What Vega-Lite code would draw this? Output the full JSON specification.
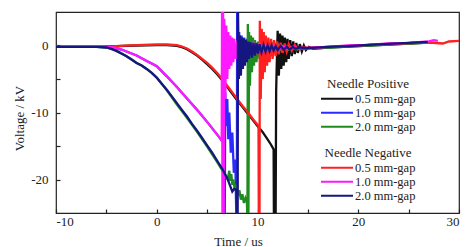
{
  "$schema": "https://vega.github.io/schema/vega-lite/v6.json",
  "width": 403,
  "height": 201,
  "autosize": {"type": "none"},
  "padding": {"left": 56, "top": 12, "right": 9, "bottom": 34},
  "background": "white",
  "config": {
    "font": "Liberation Serif",
    "view": {"stroke": "#222222", "strokeWidth": 1.2},
    "axis": {
      "domain": false,
      "grid": false,
      "labelFont": "Liberation Serif",
      "labelFontSize": 13,
      "labelColor": "#222222",
      "titleFont": "Liberation Serif",
      "titleFontSize": 13,
      "titleFontWeight": "normal",
      "titleColor": "#222222",
      "tickColor": "#222222",
      "tickWidth": 1.2
    },
    "legend": {
      "orient": "none",
      "padding": 0,
      "symbolType": "stroke",
      "symbolSize": 1024,
      "symbolStrokeWidth": 2,
      "symbolOffset": 0,
      "labelOffset": 1,
      "labelFont": "Liberation Serif",
      "labelFontSize": 12.5,
      "labelColor": "#222222",
      "titleFont": "Liberation Serif",
      "titleFontSize": 13,
      "titleFontWeight": "normal",
      "titleColor": "#222222",
      "titleAnchor": "middle",
      "titlePadding": 1,
      "clipHeight": 13.3,
      "rowPadding": 0
    }
  },
  "datasets": {
    "p05": [{"t":-10,"v":-0.2},{"t":-6,"v":-0.2},{"t":-4,"v":-0.1},{"t":-2,"v":0},{"t":0,"v":0.05},{"t":1,"v":0.05},{"t":2,"v":-0.05},{"t":2.5,"v":-0.25},{"t":3,"v":-0.55},{"t":3.5,"v":-1.0},{"t":4,"v":-1.5},{"t":4.5,"v":-2.1},{"t":5,"v":-2.8},{"t":5.5,"v":-3.5},{"t":6,"v":-4.3},{"t":6.5,"v":-5.2},{"t":7,"v":-6.2},{"t":7.5,"v":-7.2},{"t":8,"v":-8.2},{"t":8.5,"v":-9.15},{"t":9,"v":-10.1},{"t":9.5,"v":-11.05},{"t":10,"v":-12.0},{"t":10.5,"v":-12.9},{"t":11,"v":-14.0},{"t":11.3,"v":-14.7},{"t":11.6,"v":-15.5},{"t":11.63,"v":-26},{"t":11.8,"v":-26},{"t":11.85,"v":-7},{"t":11.9,"v":-3.5},{"t":12.0,"v":2.2},{"t":12.12,"v":-4.5},{"t":12.24,"v":1.8},{"t":12.36,"v":-3.5},{"t":12.48,"v":1.5},{"t":12.6,"v":-3},{"t":12.72,"v":1.2},{"t":12.85,"v":-2.5},{"t":12.98,"v":1},{"t":13.1,"v":-2},{"t":13.25,"v":0.8},{"t":13.4,"v":-1.6},{"t":13.55,"v":0.6},{"t":13.7,"v":-1.3},{"t":13.85,"v":0.4},{"t":14,"v":-1.1},{"t":14.2,"v":0.2},{"t":14.4,"v":-0.9},{"t":14.6,"v":0},{"t":14.8,"v":-0.7},{"t":15.1,"v":-0.2},{"t":15.5,"v":-0.5},{"t":17,"v":-0.3},{"t":19,"v":-0.15},{"t":21,"v":0},{"t":23,"v":0.15},{"t":25,"v":0.3},{"t":26.5,"v":0.4}],
    "p10": [{"t":-10,"v":-0.2},{"t":-5,"v":-0.2},{"t":-4.3,"v":-0.3},{"t":-3.5,"v":-0.6},{"t":-3,"v":-0.9},{"t":-2.5,"v":-1.2},{"t":-2,"v":-1.5},{"t":-1.5,"v":-1.9},{"t":-1,"v":-2.3},{"t":-0.5,"v":-2.7},{"t":0,"v":-3.1},{"t":1,"v":-4.6},{"t":2,"v":-6.2},{"t":3,"v":-7.9},{"t":4,"v":-9.6},{"t":5,"v":-11.4},{"t":6,"v":-13.3},{"t":6.6,"v":-14.5},{"t":6.63,"v":-26},{"t":6.75,"v":-26},{"t":6.8,"v":-7},{"t":6.9,"v":-12},{"t":7.0,"v":-8},{"t":7.1,"v":-14},{"t":7.2,"v":-10},{"t":7.35,"v":-16},{"t":7.5,"v":-13},{"t":7.65,"v":-19},{"t":7.8,"v":-17},{"t":7.9,"v":-26},{"t":7.95,"v":-26},{"t":7.98,"v":5.5},{"t":8.08,"v":-3},{"t":8.18,"v":2},{"t":8.3,"v":-3},{"t":8.42,"v":1.5},{"t":8.55,"v":-2.5},{"t":8.68,"v":1.2},{"t":8.8,"v":-2.2},{"t":8.95,"v":1},{"t":9.1,"v":-1.8},{"t":9.25,"v":0.8},{"t":9.4,"v":-1.6},{"t":9.6,"v":0.6},{"t":9.8,"v":-1.4},{"t":10,"v":0.4},{"t":10.2,"v":-1.2},{"t":10.45,"v":0.3},{"t":10.7,"v":-1},{"t":10.95,"v":0.2},{"t":11.2,"v":-0.9},{"t":11.5,"v":0.1},{"t":11.8,"v":-0.8},{"t":12.1,"v":0},{"t":12.4,"v":-0.7},{"t":12.8,"v":-0.1},{"t":13.2,"v":-0.6},{"t":13.6,"v":-0.2},{"t":14,"v":-0.5},{"t":15,"v":-0.4},{"t":17,"v":-0.25},{"t":19,"v":-0.1},{"t":21,"v":0.05},{"t":23,"v":0.2},{"t":25,"v":0.35},{"t":26.5,"v":0.45}],
    "p20": [{"t":-10,"v":-0.2},{"t":-6,"v":-0.2},{"t":-5,"v":-0.3},{"t":-4.5,"v":-0.5},{"t":-4,"v":-0.8},{"t":-3.5,"v":-1.2},{"t":-3,"v":-1.6},{"t":-2.5,"v":-2.1},{"t":-2,"v":-2.6},{"t":-1.5,"v":-3.0},{"t":-1,"v":-3.5},{"t":-0.5,"v":-4.1},{"t":0,"v":-4.8},{"t":1,"v":-6.7},{"t":2,"v":-8.8},{"t":3,"v":-10.8},{"t":4,"v":-12.9},{"t":5,"v":-15.1},{"t":6,"v":-17.4},{"t":6.5,"v":-18.6},{"t":7.0,"v":-19.9},{"t":7.1,"v":-19.5},{"t":7.2,"v":-18.7},{"t":7.3,"v":-20.2},{"t":7.4,"v":-19.2},{"t":7.5,"v":-20.8},{"t":7.6,"v":-20},{"t":7.75,"v":-21.6},{"t":7.9,"v":-20.8},{"t":8.05,"v":-22.4},{"t":8.2,"v":-21.6},{"t":8.35,"v":-23},{"t":8.5,"v":-22.2},{"t":8.65,"v":-23.5},{"t":8.8,"v":-22.8},{"t":8.95,"v":-23.5},{"t":9.0,"v":-26},{"t":9.04,"v":3.2},{"t":9.1,"v":-26},{"t":9.16,"v":2},{"t":9.25,"v":-6},{"t":9.35,"v":1.5},{"t":9.45,"v":-4},{"t":9.55,"v":1.2},{"t":9.65,"v":-3},{"t":9.75,"v":0.8},{"t":9.9,"v":-2.5},{"t":10.05,"v":0.6},{"t":10.2,"v":-2},{"t":10.35,"v":0.4},{"t":10.5,"v":-1.6},{"t":10.7,"v":0.3},{"t":10.9,"v":-1.3},{"t":11.1,"v":0.2},{"t":11.3,"v":-1},{"t":11.5,"v":0.1},{"t":11.8,"v":-0.9},{"t":12.1,"v":0},{"t":12.4,"v":-0.8},{"t":12.7,"v":-0.1},{"t":13,"v":-0.7},{"t":13.4,"v":-0.2},{"t":13.8,"v":-0.6},{"t":14.3,"v":-0.4},{"t":15,"v":-0.45},{"t":17,"v":-0.3},{"t":19,"v":-0.15},{"t":21,"v":0},{"t":23,"v":0.15},{"t":25,"v":0.3},{"t":26.5,"v":0.4}],
    "n05": [{"t":-10,"v":-0.2},{"t":-6,"v":-0.2},{"t":-4,"v":-0.1},{"t":-2,"v":0.05},{"t":0,"v":0.15},{"t":1,"v":0.15},{"t":2,"v":0.05},{"t":2.5,"v":-0.15},{"t":3,"v":-0.45},{"t":3.5,"v":-0.9},{"t":4,"v":-1.4},{"t":4.5,"v":-2.0},{"t":5,"v":-2.6},{"t":5.5,"v":-3.3},{"t":6,"v":-4.1},{"t":6.5,"v":-5.0},{"t":7,"v":-6.0},{"t":7.5,"v":-7.0},{"t":8,"v":-8.0},{"t":8.5,"v":-9.0},{"t":9,"v":-9.9},{"t":9.5,"v":-10.9},{"t":10.1,"v":-12.0},{"t":10.13,"v":-26},{"t":10.2,"v":-26},{"t":10.23,"v":3.7},{"t":10.32,"v":-8},{"t":10.42,"v":2.5},{"t":10.52,"v":-5},{"t":10.62,"v":2},{"t":10.72,"v":-4},{"t":10.82,"v":1.5},{"t":10.95,"v":-3},{"t":11.08,"v":1.2},{"t":11.2,"v":-2.5},{"t":11.35,"v":1},{"t":11.5,"v":-2},{"t":11.65,"v":0.8},{"t":11.8,"v":-1.6},{"t":11.95,"v":0.6},{"t":12.1,"v":-1.3},{"t":12.3,"v":0.4},{"t":12.5,"v":-1.1},{"t":12.7,"v":0.3},{"t":12.9,"v":-0.9},{"t":13.1,"v":0.2},{"t":13.4,"v":-0.8},{"t":13.7,"v":0.1},{"t":14,"v":-0.6},{"t":14.4,"v":-0.2},{"t":15,"v":-0.35},{"t":17,"v":-0.2},{"t":19,"v":-0.05},{"t":21,"v":0.1},{"t":23,"v":0.25},{"t":25,"v":0.35},{"t":27,"v":0.45},{"t":28.4,"v":0.3},{"t":29,"v":0.6},{"t":30,"v":0.7}],
    "n10": [{"t":-10,"v":-0.2},{"t":-5,"v":-0.2},{"t":-4.3,"v":-0.3},{"t":-3.5,"v":-0.6},{"t":-3,"v":-0.9},{"t":-2.5,"v":-1.2},{"t":-2,"v":-1.5},{"t":-1.5,"v":-1.9},{"t":-1,"v":-2.3},{"t":-0.5,"v":-2.7},{"t":0,"v":-3.1},{"t":1,"v":-4.6},{"t":2,"v":-6.2},{"t":3,"v":-7.9},{"t":4,"v":-9.6},{"t":5,"v":-11.4},{"t":6,"v":-13.3},{"t":6.45,"v":-14.2},{"t":6.48,"v":6},{"t":6.52,"v":-26},{"t":6.58,"v":6},{"t":6.64,"v":-26},{"t":6.7,"v":4},{"t":6.8,"v":-8},{"t":6.9,"v":3},{"t":7.0,"v":-5},{"t":7.1,"v":2},{"t":7.2,"v":-3.5},{"t":7.3,"v":1.5},{"t":7.4,"v":-3},{"t":7.5,"v":1.2},{"t":7.6,"v":-2.5},{"t":7.7,"v":1},{"t":7.85,"v":-2},{"t":8.0,"v":0.8},{"t":8.15,"v":-1.6},{"t":8.3,"v":0.6},{"t":8.5,"v":-1.4},{"t":8.7,"v":0.5},{"t":8.9,"v":-1.2},{"t":9.1,"v":0.4},{"t":9.3,"v":-1},{"t":9.6,"v":0.3},{"t":9.9,"v":-0.9},{"t":10.2,"v":0.2},{"t":10.5,"v":-0.8},{"t":10.8,"v":0.1},{"t":11.2,"v":-0.7},{"t":11.6,"v":0},{"t":12,"v":-0.6},{"t":12.5,"v":-0.1},{"t":13,"v":-0.5},{"t":13.5,"v":-0.2},{"t":14,"v":-0.4},{"t":15,"v":-0.35},{"t":17,"v":-0.2},{"t":19,"v":0},{"t":21,"v":0.1},{"t":23,"v":0.3},{"t":25,"v":0.4},{"t":27,"v":0.6},{"t":27.5,"v":0.8},{"t":27.9,"v":0.7}],
    "n20": [{"t":-10,"v":-0.2},{"t":-6,"v":-0.2},{"t":-5,"v":-0.3},{"t":-4.5,"v":-0.5},{"t":-4,"v":-0.8},{"t":-3.5,"v":-1.2},{"t":-3,"v":-1.6},{"t":-2.5,"v":-2.1},{"t":-2,"v":-2.6},{"t":-1.5,"v":-3.0},{"t":-1,"v":-3.5},{"t":-0.5,"v":-4.1},{"t":0,"v":-4.8},{"t":0.5,"v":-5.7},{"t":1,"v":-6.6},{"t":1.5,"v":-7.6},{"t":2,"v":-8.6},{"t":2.5,"v":-9.6},{"t":3,"v":-10.6},{"t":3.5,"v":-11.7},{"t":4,"v":-12.7},{"t":4.5,"v":-13.8},{"t":5,"v":-14.9},{"t":5.5,"v":-16.0},{"t":6,"v":-17.2},{"t":6.5,"v":-18.4},{"t":7,"v":-19.8},{"t":7.5,"v":-21.8},{"t":7.7,"v":-21.4},{"t":7.9,"v":-21.5},{"t":8.0,"v":-26},{"t":8.03,"v":-26},{"t":8.06,"v":5.5},{"t":8.15,"v":-5},{"t":8.25,"v":1.5},{"t":8.35,"v":-4.5},{"t":8.45,"v":1.2},{"t":8.55,"v":-3.5},{"t":8.65,"v":1},{"t":8.75,"v":-3},{"t":8.85,"v":0.8},{"t":8.95,"v":-2.5},{"t":9.05,"v":0.6},{"t":9.15,"v":-2},{"t":9.3,"v":0.5},{"t":9.45,"v":-1.8},{"t":9.6,"v":0.4},{"t":9.75,"v":-1.5},{"t":9.9,"v":0.3},{"t":10.05,"v":-1.2},{"t":10.2,"v":0.2},{"t":10.4,"v":-1},{"t":10.6,"v":0.1},{"t":10.8,"v":-0.9},{"t":11.0,"v":0},{"t":11.2,"v":-0.8},{"t":11.4,"v":0},{"t":11.6,"v":-0.7},{"t":11.8,"v":-0.1},{"t":12.0,"v":-0.7},{"t":12.3,"v":-0.1},{"t":12.6,"v":-0.6},{"t":12.9,"v":-0.2},{"t":13.2,"v":-0.6},{"t":13.5,"v":-0.2},{"t":13.8,"v":-0.5},{"t":14.2,"v":-0.3},{"t":15,"v":-0.4},{"t":17,"v":-0.2},{"t":19,"v":-0.1},{"t":21,"v":0.1},{"t":23,"v":0.25},{"t":25,"v":0.4},{"t":26.9,"v":0.55}]
  },
  "encoding": {
    "x": {
      "field": "t", "type": "quantitative",
      "scale": {"domain": [-10, 30], "nice": false, "zero": false},
      "axis": {
        "title": "Time / us",
        "values": [-10, -5, 0, 5, 10, 15, 20, 25, 30],
        "labelExpr": "datum.value % 10 === 0 ? '' + datum.value : ''",
        "tickSize": -4,
        "labelPadding": 6,
        "titleX": 182,
        "titleY": 22,
        "titleBaseline": "top"
      }
    },
    "y": {
      "field": "v", "type": "quantitative",
      "scale": {"domain": [-25, 5], "nice": false, "zero": false},
      "axis": {
        "title": "Voltage / kV",
        "values": [-20, -15, -10, -5, 0],
        "labelExpr": "datum.value % 10 === 0 ? '' + datum.value : ''",
        "tickSize": -4,
        "labelPadding": 12,
        "titleX": -37,
        "titleY": 106,
        "titleBaseline": "middle"
      }
    }
  },
  "layer": [
    {
      "layer": [
        {"data": {"name": "p05"}, "mark": {"type": "line", "clip": true, "strokeWidth": 2.3},
         "encoding": {"color": {"datum": "0.5 mm-gap", "title": "Needle Positive",
           "scale": {"domain": ["0.5 mm-gap", "1.0 mm-gap", "2.0 mm-gap"], "range": ["#111111", "#2b2bff", "#1e8c1e"]},
           "legend": {"legendX": 264, "legendY": 66}}}},
        {"data": {"name": "p10"}, "mark": {"type": "line", "clip": true, "strokeWidth": 2.3},
         "encoding": {"color": {"datum": "1.0 mm-gap", "title": "Needle Positive"}}},
        {"data": {"name": "p20"}, "mark": {"type": "line", "clip": true, "strokeWidth": 2.3},
         "encoding": {"color": {"datum": "2.0 mm-gap", "title": "Needle Positive"}}}
      ]
    },
    {
      "layer": [
        {"data": {"name": "n05"}, "mark": {"type": "line", "clip": true, "strokeWidth": 2.3},
         "encoding": {"color": {"datum": "0.5 mm-gap", "title": "Needle Negative",
           "scale": {"domain": ["0.5 mm-gap", "1.0 mm-gap", "2.0 mm-gap"], "range": ["#ff2020", "#ff19ff", "#161680"]},
           "legend": {"legendX": 264, "legendY": 135}}}},
        {"data": {"name": "n10"}, "mark": {"type": "line", "clip": true, "strokeWidth": 2.3},
         "encoding": {"color": {"datum": "1.0 mm-gap", "title": "Needle Negative"}}},
        {"data": {"name": "n20"}, "mark": {"type": "line", "clip": true, "strokeWidth": 2.3},
         "encoding": {"color": {"datum": "2.0 mm-gap", "title": "Needle Negative"}}}
      ]
    }
  ],
  "resolve": {"scale": {"color": "independent"}}
}
